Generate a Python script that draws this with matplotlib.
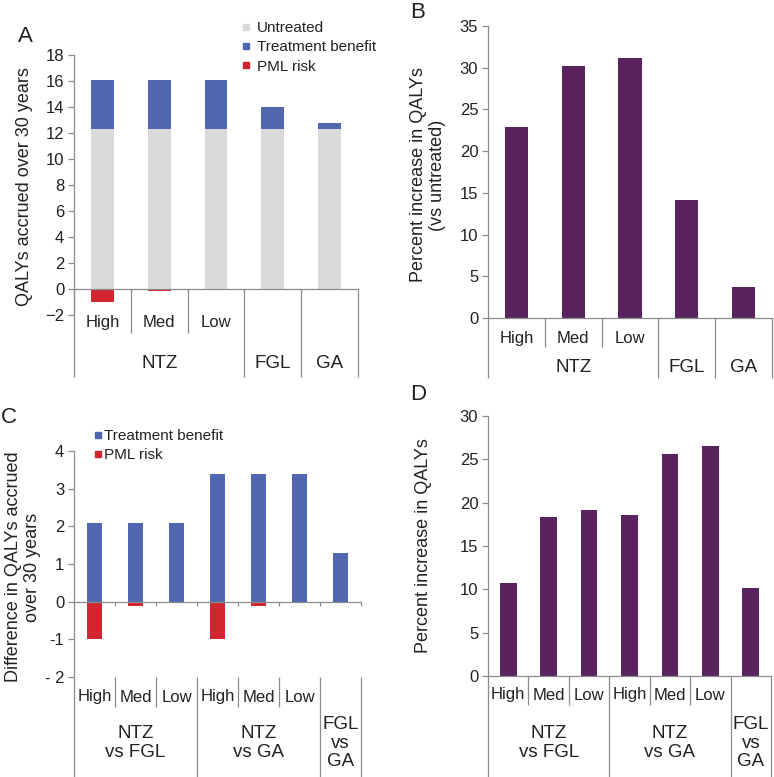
import matplotlib
matplotlib.use("Agg")
import matplotlib.pyplot as plt
from matplotlib.lines import Line2D

W, H = 774, 777

# ---- data ----
a_subs = ["High", "Med", "Low", "", ""]
a_groups = [("NTZ", 0, 2), ("FGL", 3, 3), ("GA", 4, 4)]
a_untreated = [12.3, 12.3, 12.3, 12.3, 12.3]
a_benefit = [3.8, 3.8, 3.8, 1.7, 0.45]
a_pml = [-1.0, -0.12, -0.02, 0.0, 0.0]

b_subs = ["High", "Med", "Low", "", ""]
b_groups = [("NTZ", 0, 2), ("FGL", 3, 3), ("GA", 4, 4)]
b_pct = [22.9, 30.2, 31.2, 14.1, 3.7]

c_subs = ["High", "Med", "Low", "High", "Med", "Low", ""]
c_groups = [("NTZ\nvs FGL", 0, 2), ("NTZ\nvs GA", 3, 5), ("FGL\nvs\nGA", 6, 6)]
c_benefit = [2.1, 2.1, 2.1, 3.4, 3.4, 3.4, 1.3]
c_pml = [-1.0, -0.12, -0.02, -1.0, -0.12, -0.02, 0.0]

d_subs = ["High", "Med", "Low", "High", "Med", "Low", ""]
d_groups = [("NTZ\nvs FGL", 0, 2), ("NTZ\nvs GA", 3, 5), ("FGL\nvs\nGA", 6, 6)]
d_pct = [10.7, 18.3, 19.2, 18.6, 25.6, 26.5, 10.1]

GRAY = "#d9d9d9"
BLUE = "#5066ae"
RED = "#d12630"
PURPLE = "#58235f"
LINE = "#8c8c8c"
TXT = "#222222"

plt.rcParams["font.family"] = ["Liberation Sans", "DejaVu Sans"]
plt.rcParams["text.color"] = TXT

fig = plt.figure(figsize=(W / 100, H / 100), dpi=100)


def make_ax(box):
    x0, y0, x1, y1 = box
    ax = fig.add_axes([x0 / W, 1 - y1 / H, (x1 - x0) / W, (y1 - y0) / H])
    for s in ["top", "right"]:
        ax.spines[s].set_visible(False)
    for s in ["left", "bottom"]:
        ax.spines[s].set_color(LINE)
        ax.spines[s].set_linewidth(0.9)
    ax.tick_params(axis="y", direction="out", length=4, width=0.9, color=LINE,
                   labelsize=12, labelcolor=TXT, pad=3)
    ax.tick_params(axis="x", length=0, labelbottom=False)
    ax.patch.set_alpha(0)
    return ax


def fy(box, ypix):
    return (box[3] - ypix) / (box[3] - box[1])


def category_axis(ax, box, subs, groups, y_from, sub_end, grp_end, sub_lab, grp_lab,
                  grp_ls=1.1):
    tr = ax.get_xaxis_transform()
    n = len(subs)
    gb = set()
    for _, i0, i1 in groups:
        gb.add(i0 - 0.5)
        gb.add(i1 + 0.5)
    for k in range(n + 1):
        x = k - 0.5
        end = grp_end if x in gb else sub_end
        ax.plot([x, x], [y_from, fy(box, end)], transform=tr, color=LINE,
                lw=0.9, clip_on=False, solid_capstyle="butt")
    for i, s in enumerate(subs):
        if s:
            ax.text(i, fy(box, sub_lab), s, transform=tr, ha="center", va="center",
                    fontsize=12)
    for lab, i0, i1 in groups:
        ax.text((i0 + i1) / 2, fy(box, grp_lab), lab, transform=tr, ha="center",
                va="center", fontsize=13.5, linespacing=grp_ls)
    ax.set_xlim(-0.5, n - 0.5)


# ---- panel A ----
boxA = (74, 55, 358, 315)
axA = make_ax(boxA)
xa = range(len(a_subs))
axA.bar(xa, a_untreated, width=0.4, color=GRAY)
axA.bar(xa, a_benefit, width=0.4, bottom=a_untreated, color=BLUE)
axA.bar(xa, a_pml, width=0.4, color=RED)
axA.set_ylim(-2, 18)
axA.set_yticks(range(-2, 19, 2))
axA.spines["bottom"].set_position(("data", 0))
category_axis(axA, boxA, a_subs, a_groups, 2 / 20, 333, 377, 322, 363)
hA = [Line2D([], [], ls="", marker="s", markersize=5, color=c) for c in (GRAY, BLUE, RED)]
axA.legend(hA, ["Untreated", "Treatment benefit", "PML risk"], loc="upper left",
           bbox_to_anchor=(241 / W, 1 - 21 / H), bbox_transform=fig.transFigure,
           frameon=False, fontsize=11, handlelength=0.6, handletextpad=0.42,
           labelspacing=0.35, borderpad=0, borderaxespad=0)

# ---- panel B ----
boxB = (488, 26, 772, 318)
axB = make_ax(boxB)
axB.bar(range(len(b_subs)), b_pct, width=0.41, color=PURPLE)
axB.set_ylim(0, 35)
axB.set_yticks(range(0, 36, 5))
category_axis(axB, boxB, b_subs, b_groups, 0, 347, 378, 338, 367)

# ---- panel C ----
boxC = (74, 451, 361, 677)
axC = make_ax(boxC)
xc = range(len(c_subs))
axC.bar(xc, c_benefit, width=0.39, color=BLUE)
axC.bar(xc, c_pml, width=0.39, color=RED)
axC.set_ylim(-2, 4)
axC.set_yticks(range(-2, 5))
axC.set_yticklabels(["- 2", "-1", "0", "1", "2", "3", "4"])
axC.spines["bottom"].set_position(("data", 0))
category_axis(axC, boxC, c_subs, c_groups, 0, 707, 777, 697, 743)
axC.set_xticks([k - 0.5 for k in range(1, len(c_subs) + 1)])
axC.tick_params(axis="x", direction="out", length=3, width=0.9, color=LINE,
                labelbottom=False)
hC = [Line2D([], [], ls="", marker="s", markersize=5, color=c) for c in (BLUE, RED)]
axC.legend(hC, ["Treatment benefit", "PML risk"], loc="upper left",
           bbox_to_anchor=(93 / W, 1 - 429 / H), bbox_transform=fig.transFigure,
           frameon=False, fontsize=11, handlelength=0.6, handletextpad=0.15,
           labelspacing=0.35, borderpad=0, borderaxespad=0)

# ---- panel D ----
boxD = (488, 416, 771, 676)
axD = make_ax(boxD)
axD.bar(range(len(d_subs)), d_pct, width=0.41, color=PURPLE)
axD.set_ylim(0, 30)
axD.set_yticks(range(0, 31, 5))
category_axis(axD, boxD, d_subs, d_groups, 0, 705, 777, 695, 743)

# ---- axis titles and panel letters ----
fig.text(25 / W, 1 - 187 / H, "QALYs accrued over 30 years", rotation=90,
         ha="center", va="center", fontsize=13)
fig.text(428 / W, 1 - 175 / H, "Percent increase in QALYs\n(vs untreated)", rotation=90,
         ha="center", va="center", fontsize=13, linespacing=1.1, multialignment="center")
fig.text(23 / W, 1 - 567 / H, "Difference in QALYs accrued\nover 30 years", rotation=90,
         ha="center", va="center", fontsize=13, linespacing=1.1, multialignment="center")
fig.text(423 / W, 1 - 546 / H, "Percent increase in QALYs", rotation=90,
         ha="center", va="center", fontsize=13)

for lab, x, y in [("A", 25, 36), ("B", 418, 12), ("C", 9, 418), ("D", 418, 394)]:
    fig.text(x / W, 1 - y / H, lab, ha="center", va="center", fontsize=16)

fig.savefig("out.png", dpi=100)
